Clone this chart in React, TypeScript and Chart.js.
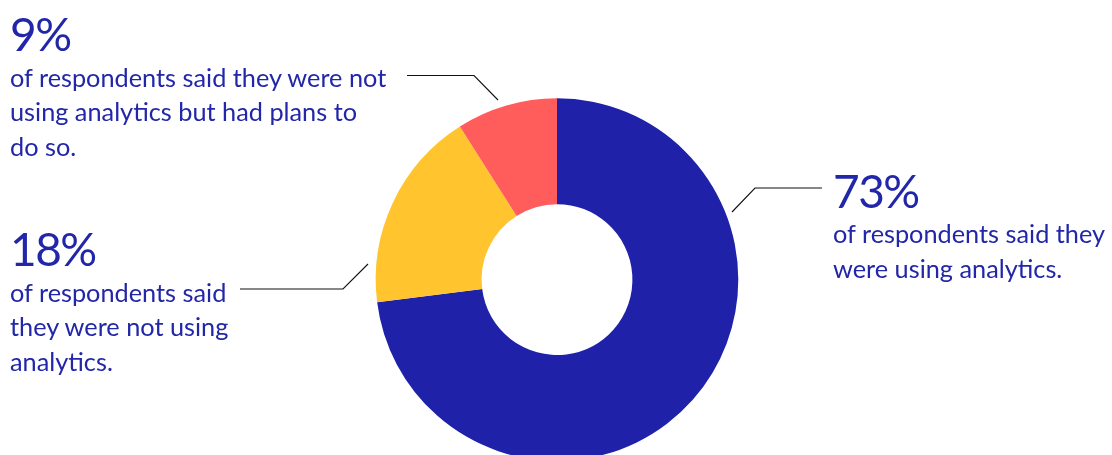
import React, { useEffect, useRef } from "react";
import { Chart, registerables } from "chart.js";

Chart.register(...registerables);

// ---- data ----
const categories = [
  "Using analytics",
  "Not using analytics",
  "Not using analytics, but plans to",
];
const values = [73, 18, 9];
const sliceColors = ["#1F22A9", "#FFC42E", "#FF5C5C"];
const percentLabels = ["73%", "18%", "9%"];
const descriptionLines = [
  ["of respondents said they", "were using analytics."],
  ["of respondents said", "they were not using", "analytics."],
  ["of respondents said they were not", "using analytics but had plans to", "do so."],
];

// ---- layout (annotation placement) ----
const TEXT_COLOR = "#2226A8";
const FONT = "Lato, 'Open Sans', sans-serif";
const PCT_SIZE = 46;
const BODY_SIZE = 25.3;
const BODY_LH = 34.5;

const blocks = [
  { left: 833, pctTop: 167.5, bodyTop: 216.1 }, // 73%
  { left: 10, pctTop: 225.9, bodyTop: 274.5 }, // 18%
  { left: 10, pctTop: 11.2, bodyTop: 59.8 }, // 9%
];

// leader lines: [text end, elbow, chart end]
const leaders = [
  [[822, 188], [755, 188], [732, 212]],
  [[240, 289], [343, 289], [368, 264]],
  [[407, 75.5], [474, 75.5], [498, 100]],
];

const leaderPlugin = {
  id: "leaders",
  afterDraw(chart: any) {
    const ctx = chart.ctx;
    ctx.save();
    ctx.strokeStyle = "#111111";
    ctx.lineWidth = 1.1;
    leaders.forEach((pts) => {
      ctx.beginPath();
      ctx.moveTo(pts[0][0], pts[0][1]);
      for (let i = 1; i < pts.length; i++) ctx.lineTo(pts[i][0], pts[i][1]);
      ctx.stroke();
    });
    ctx.restore();
  },
};

export default function App() {
  const ref = useRef<HTMLCanvasElement | null>(null);

  useEffect(() => {
    if (!ref.current) return;
    const chart = new Chart(ref.current, {
      type: "doughnut",
      data: {
        labels: categories,
        datasets: [
          {
            data: values,
            backgroundColor: sliceColors,
            borderWidth: 0,
            hoverBorderWidth: 0,
            hoverOffset: 0,
            offset: 0,
          },
        ],
      },
      options: {
        responsive: false,
        animation: false,
        cutout: "41.6%",
        rotation: 0,
        layout: {
          padding: { left: 375.7, right: 373.7, top: 98.3, bottom: 99.1 },
        },
        plugins: {
          legend: { display: false },
          tooltip: { enabled: false },
        },
        events: [],
      },
      plugins: [leaderPlugin],
    } as any);
    return () => chart.destroy();
  }, []);

  return (
    <div
      style={{
        position: "absolute",
        left: 0,
        top: 0,
        width: 1112,
        height: 455,
        overflow: "hidden",
        background: "#ffffff",
        fontFamily: FONT,
        color: TEXT_COLOR,
      }}
    >
      <canvas
        ref={ref}
        width={1112}
        height={560}
        style={{ position: "absolute", left: 0, top: 0, width: 1112, height: 560 }}
      />
      {blocks.map((b, i) => (
        <React.Fragment key={i}>
          <div
            style={{
              position: "absolute",
              left: b.left,
              top: b.pctTop,
              fontSize: PCT_SIZE,
              lineHeight: `${PCT_SIZE}px`,
              letterSpacing: "-1.5px",
              whiteSpace: "nowrap",
            }}
          >
            {percentLabels[i]}
          </div>
          <div
            style={{
              position: "absolute",
              left: b.left,
              top: b.bodyTop,
              fontSize: BODY_SIZE,
              lineHeight: `${BODY_LH}px`,
              whiteSpace: "nowrap",
            }}
          >
            {descriptionLines[i].map((line, j) => (
              <div key={j}>{line}</div>
            ))}
          </div>
        </React.Fragment>
      ))}
    </div>
  );
}
